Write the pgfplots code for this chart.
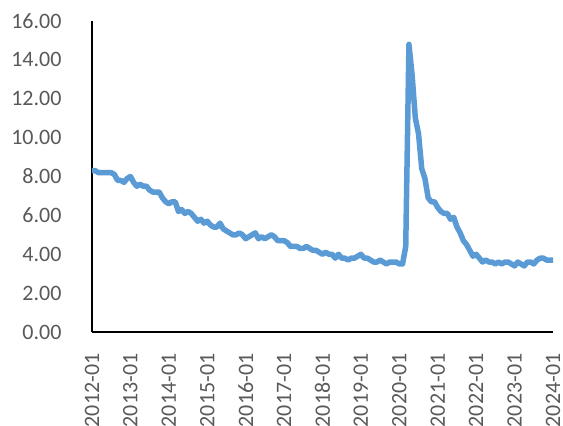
\documentclass[border=0pt]{standalone}
\usepackage{pgfplots}
\pgfplotsset{compat=1.18}
\usepackage{fontspec}
\setmainfont{Carlito}
\definecolor{serie}{HTML}{5B9BD5}
\definecolor{lbl}{HTML}{595959}

\begin{document}
\begin{tikzpicture}
\begin{axis}[
    name=a,
    scale only axis,
    width=461pt, height=311pt,
    xmin=0, xmax=144, ymin=0, ymax=16,
    axis lines*=left,
    axis line style={black, line width=1.5pt},
    tick style={draw=none},
    xtick={0,12,...,144},
    xticklabels={2012-01,2013-01,2014-01,2015-01,2016-01,2017-01,2018-01,2019-01,2020-01,2021-01,2022-01,2023-01,2024-01},
    ytick={0,2,...,16},
    font=\fontsize{22}{26}\selectfont,
    tick label style={text=lbl},
    x tick label style={rotate=90, anchor=east},
    xticklabel shift=18pt,
    yticklabel shift=27pt,
    /pgf/number format/assume math mode=true,
    /pgf/number format/.cd, fixed, fixed zerofill, precision=2,
]
\addplot[serie, line width=5.5pt, line join=round, line cap=round] table[x=m, y=u] {
m u
0 8.3
1 8.3
2 8.2
3 8.2
4 8.2
5 8.2
6 8.2
7 8.1
8 7.8
9 7.8
10 7.7
11 7.9
12 8.0
13 7.7
14 7.5
15 7.6
16 7.5
17 7.5
18 7.3
19 7.2
20 7.2
21 7.2
22 6.9
23 6.7
24 6.6
25 6.7
26 6.7
27 6.2
28 6.3
29 6.1
30 6.2
31 6.1
32 5.9
33 5.7
34 5.8
35 5.6
36 5.7
37 5.5
38 5.4
39 5.4
40 5.6
41 5.3
42 5.2
43 5.1
44 5.0
45 5.0
46 5.1
47 5.0
48 4.8
49 4.9
50 5.0
51 5.1
52 4.8
53 4.9
54 4.8
55 4.9
56 5.0
57 4.9
58 4.7
59 4.7
60 4.7
61 4.6
62 4.4
63 4.4
64 4.4
65 4.3
66 4.3
67 4.4
68 4.3
69 4.2
70 4.2
71 4.1
72 4.0
73 4.1
74 4.0
75 4.0
76 3.8
77 4.0
78 3.8
79 3.8
80 3.7
81 3.8
82 3.8
83 3.9
84 4.0
85 3.8
86 3.8
87 3.7
88 3.6
89 3.6
90 3.7
91 3.6
92 3.5
93 3.6
94 3.6
95 3.6
96 3.5
97 3.5
98 4.4
99 14.8
100 13.2
101 11.0
102 10.2
103 8.4
104 7.9
105 6.9
106 6.7
107 6.7
108 6.4
109 6.2
110 6.1
111 6.1
112 5.8
113 5.9
114 5.4
115 5.1
116 4.7
117 4.5
118 4.2
119 3.9
120 4.0
121 3.8
122 3.6
123 3.7
124 3.6
125 3.6
126 3.5
127 3.6
128 3.5
129 3.6
130 3.6
131 3.5
132 3.4
133 3.6
134 3.5
135 3.4
136 3.6
137 3.6
138 3.5
139 3.7
140 3.8
141 3.8
142 3.7
143 3.7
144 3.7
};
\end{axis}
\pgfresetboundingbox
\path ([shift={(-92pt,-94pt)}]a.south west) rectangle ([shift={(10pt,21pt)}]a.north east);
\end{tikzpicture}
\end{document}
